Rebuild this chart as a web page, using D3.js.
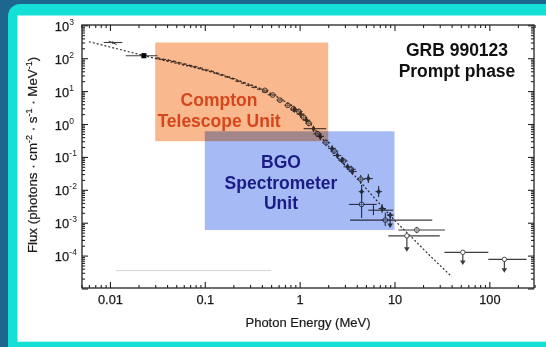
<!DOCTYPE html>
<html><head><meta charset="utf-8">
<script src="https://cdn.jsdelivr.net/npm/d3@7"></script>
<style>
html,body{margin:0;padding:0;background:#1c6690;}
svg{display:block;font-family:"Liberation Sans",Arial,sans-serif;}
</style></head>
<body>
<svg id="c" width="546" height="347"></svg>
<script>
// ---------------- data ----------------
const xDomain = [0.005, 300];           // Photon energy (MeV)
const yDomain = [1e-5, 1e3];            // Flux
const xTickLabels = [0.01, 0.1, 1, 10, 100];
const yTickExponents = [-4, -3, -2, -1, 0, 1, 2, 3];

// dotted model line (energy, flux)
const modelE = [0.006, 0.01, 0.02, 0.0316, 0.063, 0.1, 0.158, 0.25, 0.4, 0.63, 1.0, 1.58, 2.5, 4.0, 6.3, 10, 15.8, 25, 40];
const modelF = [316, 219, 132, 95, 60, 43, 29.5, 19, 11.5, 5.75, 2.4, 0.5, 0.1, 0.023, 0.0052, 0.0012, 3.2e-4, 8.5e-5, 2.3e-5];

// staircase channels: [E low, E high, flux]
const ladChannels = [
  [0.030,0.034,100],[0.034,0.039,92],[0.039,0.044,86],[0.044,0.050,80],
  [0.050,0.057,72],[0.057,0.065,66],[0.065,0.074,60],[0.074,0.084,55],
  [0.084,0.096,50],[0.096,0.11,44],[0.11,0.125,40],[0.125,0.142,35],
  [0.142,0.162,31],[0.162,0.185,27],[0.185,0.21,24],[0.21,0.24,20],
  [0.24,0.27,17.5],[0.27,0.31,15],[0.31,0.355,13],[0.355,0.40,11.5],
  [0.40,0.46,9.5],[0.46,0.52,7.8]
];

// points: [E, E low, E high, F, F low, F high]
const openCircles = [
  [0.43,0.40,0.47,10.5,9.5,11.6],[0.52,0.48,0.57,7.6,6.8,8.5],
  [0.62,0.57,0.68,5.3,4.7,6.0],[0.75,0.69,0.82,3.7,3.2,4.3],
  [0.86,0.80,0.93,2.9,2.4,3.4],[0.98,0.90,1.07,2.4,2.0,2.9],
  [1.10,1.01,1.20,1.6,1.3,2.0],[1.25,1.15,1.36,1.05,0.85,1.3],
  [1.55,1.40,1.70,0.50,0.40,0.62],[1.90,1.72,2.10,0.27,0.21,0.34],
  [2.3,2.1,2.55,0.15,0.12,0.19],[2.9,2.6,3.2,0.075,0.058,0.095],
  [3.5,3.2,3.9,0.042,0.032,0.054],[4.4,4.0,4.9,0.021,0.015,0.028],
  [4.5,3.3,6.5,0.0036,0.0014,0.007],[8.0,7.3,8.8,0.0012,0.0008,0.002],
  [17.2,11,34,6e-4,4.8e-4,7.5e-4]
];
const filledDiamonds = [
  [0.88,0.80,0.97,2.7,2.3,3.2],[1.02,0.93,1.12,2.0,1.7,2.4],
  [1.18,1.08,1.29,1.3,1.1,1.6],[1.40,1.1,1.9,0.72,0.6,0.86],
  [1.65,1.5,1.8,0.42,0.34,0.5],[2.2,2.0,2.4,0.18,0.15,0.22],
  [2.5,2.25,2.75,0.11,0.09,0.135],[2.8,2.55,3.1,0.08,0.065,0.1],
  [3.2,2.9,3.5,0.05,0.04,0.062],[3.6,3.3,4.0,0.036,0.028,0.045],
  [5.3,4.8,5.9,0.022,0.016,0.03],[4.5,4.2,4.8,0.0088,0.005,0.014],
  [6.8,6.3,7.4,0.0088,0.006,0.013],[7.4,6.8,8.1,0.0027,0.002,0.0037]
];
const plainCrosses = [
  [0.0107,0.0086,0.0135,300,270,330],
  [6.0,5.3,9.7,0.0024,0.0017,0.0034],
  [4.6,3.4,8.3,0.0012,0.0012,0.0012],
  [14,8.3,25,1.2e-3,1.2e-3,1.2e-3]
];
const squarePoint = [[0.0228,0.0147,0.0316,119,112,126]];
// upper limits: [E, E low, E high, F, arrow tip F, symbol]
const upperLimits = [
  [9.0,8.3,9.8,0.0017,6.9e-4,"diamond"],
  [13.5,8.6,30,4e-4,1.3e-4,"circle"],
  [52.5,33.6,97.5,1.26e-4,5.2e-5,"circle"],
  [144,97.5,247,7.7e-5,3.0e-5,"circle"]
];
// shaded instrument ranges: [E low, E high, F low, F high]
const comptelBox = [0.03, 2, 0.3, 300];
const bgoBox = [0.1, 10, 6e-4, 0.6];
const faintLine = [0.0115, 0.5, 3.5e-5];

// ---------------- drawing ----------------
const svg = d3.select("#c");
svg.append("rect").attr("width",546).attr("height",347).attr("fill","#1c6690");
svg.append("rect").attr("x",8).attr("y",4).attr("width",600).attr("height",400).attr("rx",12).attr("fill","#14e0d6");
svg.append("rect").attr("x",17.5).attr("y",15.5).attr("width",560).attr("height",326.2).attr("fill","#ffffff");

const x = d3.scaleLog().domain(xDomain).range([81.4, 534.6]);
const y = d3.scaleLog().domain(yDomain).range([288.5, 25.3]);
const ink = "#222";
const dink = "#3c3c3c";

// faint artifact line
svg.append("line").attr("x1",x(faintLine[0])).attr("x2",x(faintLine[1]))
  .attr("y1",y(faintLine[2])).attr("y2",y(faintLine[2]))
  .attr("stroke","#d6d6d6").attr("stroke-width",1);

const data = svg.append("g");
// model line
data.append("path").datum(modelE.map((e,i)=>[e,modelF[i]]))
  .attr("d", d3.line().x(d=>x(d[0])).y(d=>y(d[1])).curve(d3.curveMonotoneX))
  .attr("fill","none").attr("stroke","#333").attr("stroke-width",1.2).attr("stroke-dasharray","2,2");

// staircase
ladChannels.forEach(c=>{
  data.append("line").attr("x1",x(c[0])).attr("x2",x(c[1])).attr("y1",y(c[2])).attr("y2",y(c[2]))
    .attr("stroke",dink).attr("stroke-width",1.1);
  const ec = Math.sqrt(c[0]*c[1]);
  data.append("line").attr("x1",x(ec)).attr("x2",x(ec)).attr("y1",y(c[2]*1.08)).attr("y2",y(c[2]/1.08))
    .attr("stroke",dink).attr("stroke-width",0.9);
});

function errBars(arr){
  arr.forEach(p=>{
    data.append("line").attr("x1",x(p[1])).attr("x2",x(p[2])).attr("y1",y(p[3])).attr("y2",y(p[3]))
      .attr("stroke",dink).attr("stroke-width",1.1);
    if(p[4]!==p[5]) data.append("line").attr("x1",x(p[0])).attr("x2",x(p[0])).attr("y1",y(p[4])).attr("y2",y(p[5]))
      .attr("stroke",dink).attr("stroke-width",1.1);
  });
}
errBars(plainCrosses);
errBars(openCircles);
errBars(filledDiamonds);
errBars(squarePoint);
// tilted segment through the first cross
data.append("line").attr("x1",x(0.0097)).attr("x2",x(0.0118)).attr("y1",y(330)).attr("y2",y(262))
  .attr("stroke",dink).attr("stroke-width",1);

openCircles.forEach(p=>{
  data.append("circle").attr("cx",x(p[0])).attr("cy",y(p[3])).attr("r",2.4)
    .attr("fill","#fff").attr("fill-opacity",0.4).attr("stroke",dink).attr("stroke-width",0.9);
});
const diamond = d3.symbol().type(d3.symbolDiamond).size(14);
filledDiamonds.forEach(p=>{
  data.append("path").attr("d",diamond()).attr("transform",`translate(${x(p[0])},${y(p[3])})`).attr("fill",dink);
});
squarePoint.forEach(p=>{
  data.append("path").attr("d",d3.symbol().type(d3.symbolSquare).size(26)()).attr("transform",`translate(${x(p[0])},${y(p[3])})`).attr("fill","#000");
});
upperLimits.forEach(u=>{
  data.append("line").attr("x1",x(u[1])).attr("x2",x(u[2])).attr("y1",y(u[3])).attr("y2",y(u[3]))
    .attr("stroke",dink).attr("stroke-width",1.3);
  data.append("line").attr("x1",x(u[0])).attr("x2",x(u[0])).attr("y1",y(u[3])).attr("y2",y(u[4])-3)
    .attr("stroke",dink).attr("stroke-width",1.2);
  const tx=x(u[0]), ty=y(u[4]);
  data.append("path").attr("d",`M${tx-2.8},${ty-4.5}L${tx+2.8},${ty-4.5}L${tx},${ty}Z`).attr("fill",dink);
  if(u[5]==="circle") data.append("circle").attr("cx",tx).attr("cy",y(u[3])).attr("r",2.2).attr("fill","#fff").attr("stroke",dink).attr("stroke-width",0.9);
  else data.append("path").attr("d",diamond()).attr("transform",`translate(${tx},${y(u[3])})`).attr("fill",dink);
});

// shaded boxes (multiply blend)
function box(b,color){
  svg.append("rect").attr("x",x(b[0])).attr("width",x(b[1])-x(b[0]))
    .attr("y",y(b[3])).attr("height",y(b[2])-y(b[3]))
    .attr("fill",color).style("mix-blend-mode","multiply");
}
box(comptelBox,"#f9b88e");
box(bgoBox,"#a6baf6");

// axes
const all = x.ticks();
const xMajor = all.filter(v=>Math.abs(Math.log10(v)-Math.round(Math.log10(v)))<1e-9);
const xMinor = all.filter(v=>!xMajor.includes(v));
const yall = y.ticks();
const yMajor = yall.filter(v=>Math.abs(Math.log10(v)-Math.round(Math.log10(v)))<1e-9);
const yMinor = yall.filter(v=>!yMajor.includes(v));

function styleAxis(g){ g.select(".domain").remove(); g.selectAll("line").attr("stroke",ink).attr("stroke-width",1.1); }
const axG = svg.append("g");
axG.append("g").attr("transform","translate(0,288)").call(d3.axisBottom(x).tickValues(xMinor).tickSize(-3).tickFormat("")).call(styleAxis);
axG.append("g").attr("transform","translate(0,288)").call(d3.axisBottom(x).tickValues(xMajor).tickSize(-6).tickPadding(6.5).tickFormat(d=>xTickLabels.includes(d)?d3.format("~g")(d):"")).call(styleAxis)
  .selectAll("text").attr("font-size",12.8).attr("fill","#1a1a1a").attr("stroke","#1a1a1a").attr("stroke-width",0.25).attr("font-family","Liberation Sans, Arial, sans-serif");
axG.append("g").attr("transform","translate(0,25)").call(d3.axisTop(x).tickValues(xMinor).tickSize(-3).tickFormat("")).call(styleAxis);
axG.append("g").attr("transform","translate(0,25)").call(d3.axisTop(x).tickValues(xMajor).tickSize(-6).tickFormat("")).call(styleAxis);
axG.append("g").attr("transform","translate(82,0)").call(d3.axisLeft(y).tickValues(yMinor).tickSize(-3).tickFormat("")).call(styleAxis);
axG.append("g").attr("transform","translate(82,0)").call(d3.axisLeft(y).tickValues(yMajor).tickSize(-6).tickFormat("")).call(styleAxis);
axG.append("g").attr("transform","translate(534,0)").call(d3.axisRight(y).tickValues(yMinor).tickSize(-3).tickFormat("")).call(styleAxis);
axG.append("g").attr("transform","translate(534,0)").call(d3.axisRight(y).tickValues(yMajor).tickSize(-6).tickFormat("")).call(styleAxis);

// y tick labels with superscripts
yTickExponents.forEach(k=>{
  svg.append("text").attr("x",69).attr("y",y(Math.pow(10,k))+5.5).attr("text-anchor","end")
    .attr("font-size",12.8).attr("fill","#1a1a1a").attr("stroke","#1a1a1a").attr("stroke-width",0.25).text("10");
  svg.append("text").attr("x",69.3).attr("y",y(Math.pow(10,k))-0.5).attr("font-size",8.5).attr("fill","#1a1a1a").text(String(k));
});

// frame
svg.append("rect").attr("x",82).attr("y",25).attr("width",452).attr("height",263)
  .attr("fill","none").attr("stroke",ink).attr("stroke-width",1.3);

// axis titles
svg.append("text").attr("x",308).attr("y",327).attr("text-anchor","middle").attr("font-size",13).attr("fill","#1a1a1a")
  .attr("stroke","#1a1a1a").attr("stroke-width",0.2).text("Photon Energy (MeV)");
const yt = svg.append("text").attr("transform","translate(36.5,155) rotate(-90)").attr("text-anchor","middle")
  .attr("font-size",13.3).attr("fill","#1a1a1a").attr("stroke","#1a1a1a").attr("stroke-width",0.2);
yt.append("tspan").text("Flux  (photons · cm");
yt.append("tspan").attr("dy",-5).attr("font-size",9).text("-2");
yt.append("tspan").attr("dy",5).text(" · s");
yt.append("tspan").attr("dy",-5).attr("font-size",9).text("-1");
yt.append("tspan").attr("dy",5).text(" · MeV");
yt.append("tspan").attr("dy",-5).attr("font-size",9).text("-1");
yt.append("tspan").attr("dy",5).text(")");

// annotations
function label(lines, cx, ys, color){
  lines.forEach((s,i)=>svg.append("text").attr("x",cx).attr("y",ys[i]).attr("text-anchor","middle")
    .attr("font-size",17.5).attr("font-weight","bold").attr("fill",color).text(s));
}
label(["Compton","Telescope Unit"], 219, [106,126.5], "#d6461c");
label(["BGO","Spectrometer","Unit"], 281, [168.3,189,209], "#1a1c84");
label(["GRB 990123","Prompt phase"], 457, [55.7,77.3], "#111111");
</script>
</body></html>
